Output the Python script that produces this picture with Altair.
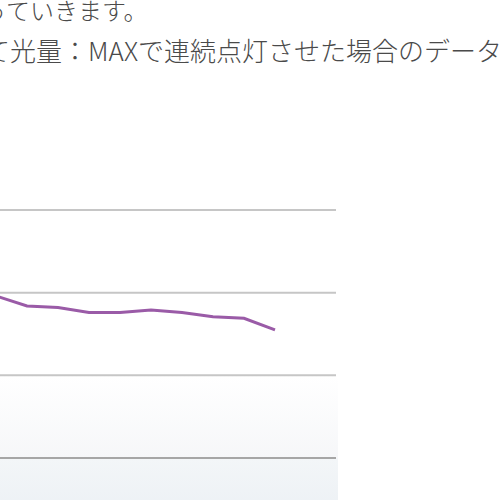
import altair as alt
import pandas as pd

# ---- data ----
hours = [8, 9, 10, 11, 12, 13, 14, 15, 16, 17]
lumens = [196, 184, 182, 176, 176, 179, 176, 171, 169, 155]
grid_values = [300, 200, 100]
base_value = [0]
band_lo = [100, 0]
band_hi = [0, -60]
band_id = ["upper", "lower"]
line1_cut = "っ"
line1 = "ていきます。"
line2_cut = "て"
line2 = "光量：MAXで連続点灯させた場合のデータです。"

FONT = "Noto Sans CJK JP"
TEXT_COLOR = "#4a4a4a"
LINE_COLOR = "#9a5ba7"

yscale = alt.Scale(domain=[0, 300], range=[458, 210])
xscale = alt.Scale(domain=[8, 17], range=[-4, 275])

df_line = pd.DataFrame({"hour": hours, "lm": lumens})
df_grid = pd.DataFrame({"v": grid_values})
df_base = pd.DataFrame({"v": base_value})
df_band = pd.DataFrame({"lo": band_lo, "hi": band_hi, "id": band_id})

band_upper = alt.Chart(df_band[df_band.id == "upper"]).mark_rect(
    fill=alt.Gradient(
        gradient="linear",
        stops=[alt.GradientStop(color="#ffffff", offset=0),
               alt.GradientStop(color="#f6f7f9", offset=1)],
        x1=0, x2=0, y1=0, y2=1,
    )
).encode(
    x=alt.value(0), x2=alt.value(338),
    y=alt.Y("lo:Q", scale=yscale, axis=None), y2="hi:Q",
)

band_lower = alt.Chart(df_band[df_band.id == "lower"]).mark_rect(
    fill=alt.Gradient(
        gradient="linear",
        stops=[alt.GradientStop(color="#f3f6f8", offset=0),
               alt.GradientStop(color="#edf1f5", offset=1)],
        x1=0, x2=0, y1=0, y2=1,
    )
).encode(
    x=alt.value(0), x2=alt.value(338),
    y=alt.Y("lo:Q", scale=yscale, axis=None), y2="hi:Q",
)

grid = alt.Chart(df_grid).mark_rule(color="#c6c6c6", strokeWidth=2).encode(
    y=alt.Y("v:Q", scale=yscale, axis=None),
    x=alt.value(0), x2=alt.value(336),
)

base = alt.Chart(df_base).mark_rule(color="#a6a6a6", strokeWidth=2).encode(
    y=alt.Y("v:Q", scale=yscale, axis=None),
    x=alt.value(0), x2=alt.value(336),
)

line = alt.Chart(df_line).mark_line(color=LINE_COLOR, strokeWidth=3, clip=True).encode(
    x=alt.X("hour:Q", scale=xscale, axis=None),
    y=alt.Y("lm:Q", scale=yscale, axis=None),
)

def txt(s, x, y, align, size):
    return alt.Chart(pd.DataFrame({"t": [s]})).mark_text(
        font=FONT, fontSize=size, fontWeight=300, color=TEXT_COLOR,
        align=align, baseline="alphabetic"
    ).encode(text="t:N", x=alt.value(x), y=alt.value(y))

texts = [
    txt(line1_cut, 6, 20, "right", 24),
    txt(line1, 6, 20, "left", 24),
    txt(line2_cut, 10, 61, "right", 26),
    txt(line2, 10, 61, "left", 26),
]

chart = alt.layer(band_upper, band_lower, grid, base, line, *texts).properties(
    width=500, height=500,
    padding=0,
    autosize=alt.AutoSizeParams(type="none"),
    background="#ffffff",
).configure_view(stroke=None)

chart.save("out.html", embed_options={"renderer": "svg", "actions": False})
